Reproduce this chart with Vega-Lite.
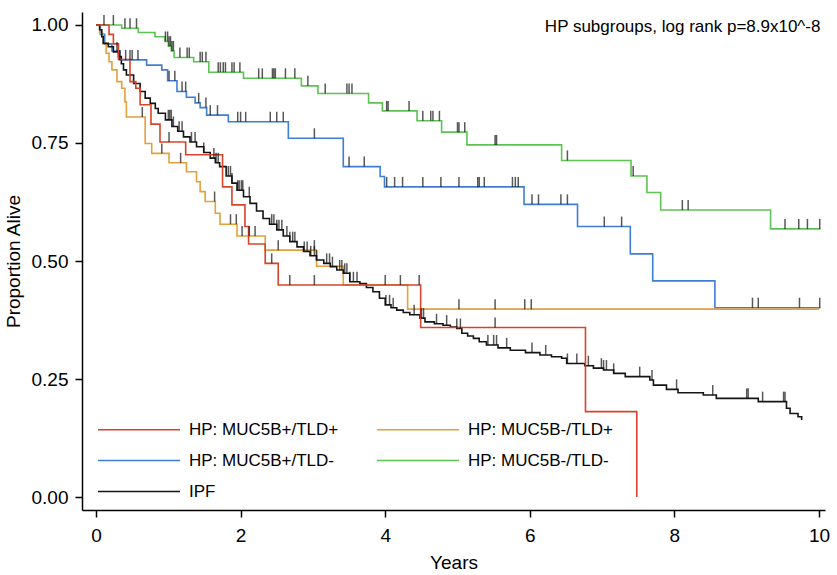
{
  "$schema": "https://vega.github.io/schema/vega-lite/v6.json",
  "autosize": "none",
  "width": 743,
  "height": 498,
  "padding": {"left": 82, "top": 12, "right": 12, "bottom": 65},
  "background": "white",
  "config": {
    "view": {"stroke": null},
    "font": "Liberation Sans",
    "axis": {
      "grid": false,
      "labelFontSize": 19,
      "titleFontSize": 19,
      "titleFontWeight": "normal",
      "labelColor": "#000",
      "titleColor": "#000",
      "domainColor": "#000",
      "tickColor": "#000",
      "domainWidth": 1.5,
      "tickWidth": 1.5,
      "tickSize": 7,
      "labelFlush": false
    }
  },
  "layer": [
    {
      "data": {"values": [
        {"group": "HP: MUC5B-/TLD-", "years": 0, "surv": 1.0},
        {"group": "HP: MUC5B-/TLD-", "years": 0.355, "surv": 0.993},
        {"group": "HP: MUC5B-/TLD-", "years": 0.585, "surv": 0.984},
        {"group": "HP: MUC5B-/TLD-", "years": 0.816, "surv": 0.975},
        {"group": "HP: MUC5B-/TLD-", "years": 0.954, "surv": 0.965},
        {"group": "HP: MUC5B-/TLD-", "years": 1.0, "surv": 0.955},
        {"group": "HP: MUC5B-/TLD-", "years": 1.04, "surv": 0.945},
        {"group": "HP: MUC5B-/TLD-", "years": 1.08, "surv": 0.931},
        {"group": "HP: MUC5B-/TLD-", "years": 1.35, "surv": 0.922},
        {"group": "HP: MUC5B-/TLD-", "years": 1.56, "surv": 0.9},
        {"group": "HP: MUC5B-/TLD-", "years": 2.04, "surv": 0.887},
        {"group": "HP: MUC5B-/TLD-", "years": 2.84, "surv": 0.871},
        {"group": "HP: MUC5B-/TLD-", "years": 3.07, "surv": 0.855},
        {"group": "HP: MUC5B-/TLD-", "years": 3.77, "surv": 0.835},
        {"group": "HP: MUC5B-/TLD-", "years": 3.96, "surv": 0.818},
        {"group": "HP: MUC5B-/TLD-", "years": 4.44, "surv": 0.797},
        {"group": "HP: MUC5B-/TLD-", "years": 4.78, "surv": 0.773},
        {"group": "HP: MUC5B-/TLD-", "years": 5.13, "surv": 0.746},
        {"group": "HP: MUC5B-/TLD-", "years": 6.44, "surv": 0.713},
        {"group": "HP: MUC5B-/TLD-", "years": 7.4, "surv": 0.68},
        {"group": "HP: MUC5B-/TLD-", "years": 7.62, "surv": 0.645},
        {"group": "HP: MUC5B-/TLD-", "years": 7.81, "surv": 0.608},
        {"group": "HP: MUC5B-/TLD-", "years": 9.33, "surv": 0.568},
        {"group": "HP: MUC5B-/TLD-", "years": 10.02, "surv": 0.568},

        {"group": "HP: MUC5B+/TLD-", "years": 0, "surv": 1.0},
        {"group": "HP: MUC5B+/TLD-", "years": 0.06, "surv": 0.98},
        {"group": "HP: MUC5B+/TLD-", "years": 0.12, "surv": 0.96},
        {"group": "HP: MUC5B+/TLD-", "years": 0.22, "surv": 0.945},
        {"group": "HP: MUC5B+/TLD-", "years": 0.33, "surv": 0.926},
        {"group": "HP: MUC5B+/TLD-", "years": 0.7, "surv": 0.915},
        {"group": "HP: MUC5B+/TLD-", "years": 0.91, "surv": 0.905},
        {"group": "HP: MUC5B+/TLD-", "years": 0.99, "surv": 0.882},
        {"group": "HP: MUC5B+/TLD-", "years": 1.12, "surv": 0.859},
        {"group": "HP: MUC5B+/TLD-", "years": 1.25, "surv": 0.847},
        {"group": "HP: MUC5B+/TLD-", "years": 1.37, "surv": 0.835},
        {"group": "HP: MUC5B+/TLD-", "years": 1.44, "surv": 0.825},
        {"group": "HP: MUC5B+/TLD-", "years": 1.53, "surv": 0.809},
        {"group": "HP: MUC5B+/TLD-", "years": 1.83, "surv": 0.795},
        {"group": "HP: MUC5B+/TLD-", "years": 2.66, "surv": 0.76},
        {"group": "HP: MUC5B+/TLD-", "years": 3.42, "surv": 0.7},
        {"group": "HP: MUC5B+/TLD-", "years": 3.93, "surv": 0.679},
        {"group": "HP: MUC5B+/TLD-", "years": 3.99, "surv": 0.657},
        {"group": "HP: MUC5B+/TLD-", "years": 5.92, "surv": 0.62},
        {"group": "HP: MUC5B+/TLD-", "years": 6.66, "surv": 0.573},
        {"group": "HP: MUC5B+/TLD-", "years": 7.39, "surv": 0.515},
        {"group": "HP: MUC5B+/TLD-", "years": 7.7, "surv": 0.458},
        {"group": "HP: MUC5B+/TLD-", "years": 8.56, "surv": 0.401},
        {"group": "HP: MUC5B+/TLD-", "years": 10.02, "surv": 0.401},

        {"group": "HP: MUC5B-/TLD+", "years": 0, "surv": 1.0},
        {"group": "HP: MUC5B-/TLD+", "years": 0.05, "surv": 0.982},
        {"group": "HP: MUC5B-/TLD+", "years": 0.1, "surv": 0.961},
        {"group": "HP: MUC5B-/TLD+", "years": 0.14, "surv": 0.94},
        {"group": "HP: MUC5B-/TLD+", "years": 0.18, "surv": 0.922},
        {"group": "HP: MUC5B-/TLD+", "years": 0.22, "surv": 0.905},
        {"group": "HP: MUC5B-/TLD+", "years": 0.29, "surv": 0.88},
        {"group": "HP: MUC5B-/TLD+", "years": 0.355, "surv": 0.866},
        {"group": "HP: MUC5B-/TLD+", "years": 0.4, "surv": 0.837},
        {"group": "HP: MUC5B-/TLD+", "years": 0.42, "surv": 0.805},
        {"group": "HP: MUC5B-/TLD+", "years": 0.68, "surv": 0.749},
        {"group": "HP: MUC5B-/TLD+", "years": 0.77, "surv": 0.728},
        {"group": "HP: MUC5B-/TLD+", "years": 1.01, "surv": 0.708},
        {"group": "HP: MUC5B-/TLD+", "years": 1.25, "surv": 0.689},
        {"group": "HP: MUC5B-/TLD+", "years": 1.39, "surv": 0.668},
        {"group": "HP: MUC5B-/TLD+", "years": 1.44, "surv": 0.647},
        {"group": "HP: MUC5B-/TLD+", "years": 1.51, "surv": 0.626},
        {"group": "HP: MUC5B-/TLD+", "years": 1.65, "surv": 0.601},
        {"group": "HP: MUC5B-/TLD+", "years": 1.715, "surv": 0.578},
        {"group": "HP: MUC5B-/TLD+", "years": 1.95, "surv": 0.553},
        {"group": "HP: MUC5B-/TLD+", "years": 2.34, "surv": 0.523},
        {"group": "HP: MUC5B-/TLD+", "years": 3.05, "surv": 0.489},
        {"group": "HP: MUC5B-/TLD+", "years": 3.42, "surv": 0.449},
        {"group": "HP: MUC5B-/TLD+", "years": 4.31, "surv": 0.398},
        {"group": "HP: MUC5B-/TLD+", "years": 10.0, "surv": 0.398},

        {"group": "IPF", "years": 0, "surv": 1.0},
        {"group": "IPF", "years": 0.05, "surv": 0.99},
        {"group": "IPF", "years": 0.08, "surv": 0.975},
        {"group": "IPF", "years": 0.1, "surv": 0.961},
        {"group": "IPF", "years": 0.17, "surv": 0.954},
        {"group": "IPF", "years": 0.24, "surv": 0.943},
        {"group": "IPF", "years": 0.31, "surv": 0.933},
        {"group": "IPF", "years": 0.35, "surv": 0.918},
        {"group": "IPF", "years": 0.38, "surv": 0.905},
        {"group": "IPF", "years": 0.42, "surv": 0.894},
        {"group": "IPF", "years": 0.52, "surv": 0.876},
        {"group": "IPF", "years": 0.61, "surv": 0.859},
        {"group": "IPF", "years": 0.68, "surv": 0.845},
        {"group": "IPF", "years": 0.75, "surv": 0.834},
        {"group": "IPF", "years": 0.82, "surv": 0.823},
        {"group": "IPF", "years": 0.86, "surv": 0.813},
        {"group": "IPF", "years": 0.96, "surv": 0.799},
        {"group": "IPF", "years": 1.05, "surv": 0.785},
        {"group": "IPF", "years": 1.13, "surv": 0.775},
        {"group": "IPF", "years": 1.21, "surv": 0.763},
        {"group": "IPF", "years": 1.3, "surv": 0.752},
        {"group": "IPF", "years": 1.39, "surv": 0.742},
        {"group": "IPF", "years": 1.49, "surv": 0.73},
        {"group": "IPF", "years": 1.58, "surv": 0.718},
        {"group": "IPF", "years": 1.65, "surv": 0.708},
        {"group": "IPF", "years": 1.71, "surv": 0.7},
        {"group": "IPF", "years": 1.8, "surv": 0.68},
        {"group": "IPF", "years": 1.88, "surv": 0.665},
        {"group": "IPF", "years": 1.95, "surv": 0.65},
        {"group": "IPF", "years": 2.04, "surv": 0.636},
        {"group": "IPF", "years": 2.13, "surv": 0.622},
        {"group": "IPF", "years": 2.22, "surv": 0.606},
        {"group": "IPF", "years": 2.31, "surv": 0.59},
        {"group": "IPF", "years": 2.4, "surv": 0.578},
        {"group": "IPF", "years": 2.5, "surv": 0.566},
        {"group": "IPF", "years": 2.59, "surv": 0.553},
        {"group": "IPF", "years": 2.68, "surv": 0.541},
        {"group": "IPF", "years": 2.78, "surv": 0.53},
        {"group": "IPF", "years": 2.87, "surv": 0.52},
        {"group": "IPF", "years": 2.96, "surv": 0.511},
        {"group": "IPF", "years": 3.05, "surv": 0.502},
        {"group": "IPF", "years": 3.15, "surv": 0.495},
        {"group": "IPF", "years": 3.24, "surv": 0.488},
        {"group": "IPF", "years": 3.33, "surv": 0.481},
        {"group": "IPF", "years": 3.42, "surv": 0.474},
        {"group": "IPF", "years": 3.51, "surv": 0.456},
        {"group": "IPF", "years": 3.65, "surv": 0.452},
        {"group": "IPF", "years": 3.74, "surv": 0.444},
        {"group": "IPF", "years": 3.83, "surv": 0.435},
        {"group": "IPF", "years": 3.92, "surv": 0.421},
        {"group": "IPF", "years": 4.0, "surv": 0.407},
        {"group": "IPF", "years": 4.08, "surv": 0.401},
        {"group": "IPF", "years": 4.16, "surv": 0.396},
        {"group": "IPF", "years": 4.25, "surv": 0.391},
        {"group": "IPF", "years": 4.34, "surv": 0.386},
        {"group": "IPF", "years": 4.48, "surv": 0.379},
        {"group": "IPF", "years": 4.55, "surv": 0.371},
        {"group": "IPF", "years": 4.68, "surv": 0.367},
        {"group": "IPF", "years": 4.8, "surv": 0.364},
        {"group": "IPF", "years": 4.9, "surv": 0.36},
        {"group": "IPF", "years": 4.99, "surv": 0.357},
        {"group": "IPF", "years": 5.06, "surv": 0.347},
        {"group": "IPF", "years": 5.14, "surv": 0.341},
        {"group": "IPF", "years": 5.22, "surv": 0.336},
        {"group": "IPF", "years": 5.3, "surv": 0.329},
        {"group": "IPF", "years": 5.4, "surv": 0.322},
        {"group": "IPF", "years": 5.56, "surv": 0.316},
        {"group": "IPF", "years": 5.73, "surv": 0.311},
        {"group": "IPF", "years": 5.94, "surv": 0.306},
        {"group": "IPF", "years": 6.14, "surv": 0.301},
        {"group": "IPF", "years": 6.3, "surv": 0.297},
        {"group": "IPF", "years": 6.44, "surv": 0.294},
        {"group": "IPF", "years": 6.51, "surv": 0.283},
        {"group": "IPF", "years": 6.76, "surv": 0.278},
        {"group": "IPF", "years": 6.88, "surv": 0.273},
        {"group": "IPF", "years": 7.02, "surv": 0.269},
        {"group": "IPF", "years": 7.16, "surv": 0.262},
        {"group": "IPF", "years": 7.32, "surv": 0.255},
        {"group": "IPF", "years": 7.66, "surv": 0.248},
        {"group": "IPF", "years": 7.71, "surv": 0.237},
        {"group": "IPF", "years": 7.89, "surv": 0.228},
        {"group": "IPF", "years": 8.05, "surv": 0.221},
        {"group": "IPF", "years": 8.4, "surv": 0.216},
        {"group": "IPF", "years": 8.58, "surv": 0.209},
        {"group": "IPF", "years": 9.16, "surv": 0.202},
        {"group": "IPF", "years": 9.55, "surv": 0.188},
        {"group": "IPF", "years": 9.6, "surv": 0.177},
        {"group": "IPF", "years": 9.71, "surv": 0.17},
        {"group": "IPF", "years": 9.76, "surv": 0.163},

        {"group": "HP: MUC5B+/TLD+", "years": 0, "surv": 1.0},
        {"group": "HP: MUC5B+/TLD+", "years": 0.18, "surv": 0.98},
        {"group": "HP: MUC5B+/TLD+", "years": 0.24, "surv": 0.96},
        {"group": "HP: MUC5B+/TLD+", "years": 0.31, "surv": 0.927},
        {"group": "HP: MUC5B+/TLD+", "years": 0.47, "surv": 0.88},
        {"group": "HP: MUC5B+/TLD+", "years": 0.55, "surv": 0.866},
        {"group": "HP: MUC5B+/TLD+", "years": 0.61, "surv": 0.831},
        {"group": "HP: MUC5B+/TLD+", "years": 0.76, "surv": 0.79},
        {"group": "HP: MUC5B+/TLD+", "years": 0.885, "surv": 0.752},
        {"group": "HP: MUC5B+/TLD+", "years": 1.24, "surv": 0.725},
        {"group": "HP: MUC5B+/TLD+", "years": 1.75, "surv": 0.657},
        {"group": "HP: MUC5B+/TLD+", "years": 1.88, "surv": 0.619},
        {"group": "HP: MUC5B+/TLD+", "years": 2.06, "surv": 0.573},
        {"group": "HP: MUC5B+/TLD+", "years": 2.11, "surv": 0.536},
        {"group": "HP: MUC5B+/TLD+", "years": 2.34, "surv": 0.495},
        {"group": "HP: MUC5B+/TLD+", "years": 2.52, "surv": 0.449},
        {"group": "HP: MUC5B+/TLD+", "years": 4.49, "surv": 0.359},
        {"group": "HP: MUC5B+/TLD+", "years": 6.77, "surv": 0.181},
        {"group": "HP: MUC5B+/TLD+", "years": 7.48, "surv": 0.0}
      ]},
      "mark": {"type": "line", "interpolate": "step-after", "strokeWidth": 1.6},
      "encoding": {
        "x": {
          "field": "years", "type": "quantitative",
          "scale": {"domain": [-0.194, 10.083], "nice": false, "zero": false},
          "axis": {"values": [0, 2, 4, 6, 8, 10], "format": "d", "title": "Years", "labelPadding": 9, "titlePadding": 8}
        },
        "y": {
          "field": "surv", "type": "quantitative",
          "scale": {"domain": [-0.0275, 1.0275], "nice": false, "zero": false},
          "axis": {"values": [0, 0.25, 0.5, 0.75, 1], "format": ".2f", "title": "Proportion Alive", "labelPadding": 7, "titlePadding": 8}
        },
        "color": {
          "field": "group", "type": "nominal",
          "scale": {
            "domain": ["HP: MUC5B+/TLD+", "HP: MUC5B+/TLD-", "IPF", "HP: MUC5B-/TLD+", "HP: MUC5B-/TLD-"],
            "range": ["#d6452a", "#3f7ed6", "#151515", "#e4a03a", "#5cc452"]
          },
          "legend": {
            "title": null,
            "orient": "none",
            "legendX": 15,
            "legendY": 408,
            "columns": 2,
            "symbolType": "M-1,0H8.65",
            "symbolSize": 289,
            "symbolStrokeWidth": 1.5,
            "symbolFillColor": "transparent",
            "labelFontSize": 17,
            "labelColor": "#000",
            "labelOffset": 73,
            "columnPadding": 35,
            "rowPadding": 13,
            "padding": 0
          }
        },
        "order": {"field": "years", "type": "quantitative"}
      }
    },
    {
      "data": {"values": [
        {"group": "G", "years": 0.11, "surv": 1.0},
        {"group": "G", "years": 0.24, "surv": 1.0},
        {"group": "G", "years": 0.4, "surv": 0.993},
        {"group": "G", "years": 0.47, "surv": 0.993},
        {"group": "G", "years": 0.56, "surv": 0.993},
        {"group": "G", "years": 0.96, "surv": 0.965},
        {"group": "G", "years": 0.99, "surv": 0.965},
        {"group": "G", "years": 1.01, "surv": 0.955},
        {"group": "G", "years": 1.03, "surv": 0.955},
        {"group": "G", "years": 1.05, "surv": 0.945},
        {"group": "G", "years": 1.07, "surv": 0.945},
        {"group": "G", "years": 1.16, "surv": 0.931},
        {"group": "G", "years": 1.26, "surv": 0.931},
        {"group": "G", "years": 1.29, "surv": 0.931},
        {"group": "G", "years": 1.44, "surv": 0.922},
        {"group": "G", "years": 1.47, "surv": 0.922},
        {"group": "G", "years": 1.52, "surv": 0.922},
        {"group": "G", "years": 1.69, "surv": 0.9},
        {"group": "G", "years": 1.72, "surv": 0.9},
        {"group": "G", "years": 1.76, "surv": 0.9},
        {"group": "G", "years": 1.79, "surv": 0.9},
        {"group": "G", "years": 1.88, "surv": 0.9},
        {"group": "G", "years": 1.91, "surv": 0.9},
        {"group": "G", "years": 1.99, "surv": 0.9},
        {"group": "G", "years": 2.25, "surv": 0.887},
        {"group": "G", "years": 2.3, "surv": 0.887},
        {"group": "G", "years": 2.44, "surv": 0.887},
        {"group": "G", "years": 2.46, "surv": 0.887},
        {"group": "G", "years": 2.48, "surv": 0.887},
        {"group": "G", "years": 2.62, "surv": 0.887},
        {"group": "G", "years": 2.75, "surv": 0.887},
        {"group": "G", "years": 2.93, "surv": 0.871},
        {"group": "G", "years": 3.17, "surv": 0.855},
        {"group": "G", "years": 3.47, "surv": 0.855},
        {"group": "G", "years": 3.5, "surv": 0.855},
        {"group": "G", "years": 3.54, "surv": 0.855},
        {"group": "G", "years": 4.02, "surv": 0.818},
        {"group": "G", "years": 4.04, "surv": 0.818},
        {"group": "G", "years": 4.33, "surv": 0.818},
        {"group": "G", "years": 4.52, "surv": 0.797},
        {"group": "G", "years": 4.63, "surv": 0.797},
        {"group": "G", "years": 4.66, "surv": 0.797},
        {"group": "G", "years": 4.75, "surv": 0.797},
        {"group": "G", "years": 5.0, "surv": 0.773},
        {"group": "G", "years": 5.02, "surv": 0.773},
        {"group": "G", "years": 5.1, "surv": 0.773},
        {"group": "G", "years": 5.52, "surv": 0.746},
        {"group": "G", "years": 5.54, "surv": 0.746},
        {"group": "G", "years": 6.52, "surv": 0.713},
        {"group": "G", "years": 7.43, "surv": 0.68},
        {"group": "G", "years": 8.11, "surv": 0.608},
        {"group": "G", "years": 8.19, "surv": 0.608},
        {"group": "G", "years": 9.53, "surv": 0.568},
        {"group": "G", "years": 9.72, "surv": 0.568},
        {"group": "G", "years": 9.84, "surv": 0.568},
        {"group": "G", "years": 10.01, "surv": 0.568},

        {"group": "B", "years": 0.33, "surv": 0.926},
        {"group": "B", "years": 0.41, "surv": 0.926},
        {"group": "B", "years": 0.47, "surv": 0.926},
        {"group": "B", "years": 0.5, "surv": 0.926},
        {"group": "B", "years": 0.58, "surv": 0.926},
        {"group": "B", "years": 1.01, "surv": 0.882},
        {"group": "B", "years": 1.09, "surv": 0.882},
        {"group": "B", "years": 1.19, "surv": 0.859},
        {"group": "B", "years": 1.24, "surv": 0.859},
        {"group": "B", "years": 1.42, "surv": 0.835},
        {"group": "B", "years": 1.52, "surv": 0.825},
        {"group": "B", "years": 1.58, "surv": 0.809},
        {"group": "B", "years": 1.68, "surv": 0.809},
        {"group": "B", "years": 1.96, "surv": 0.795},
        {"group": "B", "years": 2.0, "surv": 0.795},
        {"group": "B", "years": 2.07, "surv": 0.795},
        {"group": "B", "years": 2.41, "surv": 0.795},
        {"group": "B", "years": 2.5, "surv": 0.795},
        {"group": "B", "years": 2.59, "surv": 0.795},
        {"group": "B", "years": 3.02, "surv": 0.76},
        {"group": "B", "years": 3.5, "surv": 0.7},
        {"group": "B", "years": 3.71, "surv": 0.7},
        {"group": "B", "years": 4.02, "surv": 0.657},
        {"group": "B", "years": 4.13, "surv": 0.657},
        {"group": "B", "years": 4.24, "surv": 0.657},
        {"group": "B", "years": 4.52, "surv": 0.657},
        {"group": "B", "years": 4.77, "surv": 0.657},
        {"group": "B", "years": 5.02, "surv": 0.657},
        {"group": "B", "years": 5.28, "surv": 0.657},
        {"group": "B", "years": 5.3, "surv": 0.657},
        {"group": "B", "years": 5.37, "surv": 0.657},
        {"group": "B", "years": 5.76, "surv": 0.657},
        {"group": "B", "years": 5.8, "surv": 0.657},
        {"group": "B", "years": 5.84, "surv": 0.657},
        {"group": "B", "years": 6.03, "surv": 0.62},
        {"group": "B", "years": 6.12, "surv": 0.62},
        {"group": "B", "years": 6.43, "surv": 0.62},
        {"group": "B", "years": 6.52, "surv": 0.62},
        {"group": "B", "years": 7.03, "surv": 0.573},
        {"group": "B", "years": 7.27, "surv": 0.573},
        {"group": "B", "years": 9.08, "surv": 0.401},
        {"group": "B", "years": 9.16, "surv": 0.401},
        {"group": "B", "years": 9.73, "surv": 0.401},
        {"group": "B", "years": 10.01, "surv": 0.401},

        {"group": "R", "years": 1.01, "surv": 0.752},
        {"group": "R", "years": 2.43, "surv": 0.495},
        {"group": "R", "years": 2.68, "surv": 0.449},
        {"group": "R", "years": 3.02, "surv": 0.449},
        {"group": "R", "years": 4.0, "surv": 0.449},
        {"group": "R", "years": 4.21, "surv": 0.449},
        {"group": "R", "years": 4.47, "surv": 0.449},
        {"group": "R", "years": 5.52, "surv": 0.359},

        {"group": "O", "years": 0.64, "surv": 0.805},
        {"group": "O", "years": 0.91, "surv": 0.728},
        {"group": "O", "years": 1.17, "surv": 0.708},
        {"group": "O", "years": 1.64, "surv": 0.626},
        {"group": "O", "years": 1.86, "surv": 0.578},
        {"group": "O", "years": 1.94, "surv": 0.578},
        {"group": "O", "years": 2.02, "surv": 0.553},
        {"group": "O", "years": 2.12, "surv": 0.553},
        {"group": "O", "years": 2.2, "surv": 0.553},
        {"group": "O", "years": 2.52, "surv": 0.523},
        {"group": "O", "years": 3.02, "surv": 0.523},
        {"group": "O", "years": 5.02, "surv": 0.398},
        {"group": "O", "years": 5.52, "surv": 0.398},
        {"group": "O", "years": 5.93, "surv": 0.398},
        {"group": "O", "years": 6.02, "surv": 0.398},

        {"group": "K", "years": 0.29, "surv": 0.943},
        {"group": "K", "years": 1.0, "surv": 0.799},
        {"group": "K", "years": 1.02, "surv": 0.799},
        {"group": "K", "years": 1.04, "surv": 0.799},
        {"group": "K", "years": 1.07, "surv": 0.785},
        {"group": "K", "years": 1.15, "surv": 0.775},
        {"group": "K", "years": 1.19, "surv": 0.775},
        {"group": "K", "years": 1.32, "surv": 0.752},
        {"group": "K", "years": 1.37, "surv": 0.752},
        {"group": "K", "years": 1.49, "surv": 0.73},
        {"group": "K", "years": 1.63, "surv": 0.718},
        {"group": "K", "years": 1.66, "surv": 0.708},
        {"group": "K", "years": 1.69, "surv": 0.708},
        {"group": "K", "years": 1.83, "surv": 0.68},
        {"group": "K", "years": 1.86, "surv": 0.68},
        {"group": "K", "years": 1.88, "surv": 0.665},
        {"group": "K", "years": 1.96, "surv": 0.65},
        {"group": "K", "years": 1.98, "surv": 0.65},
        {"group": "K", "years": 2.01, "surv": 0.65},
        {"group": "K", "years": 2.03, "surv": 0.65},
        {"group": "K", "years": 2.12, "surv": 0.636},
        {"group": "K", "years": 2.43, "surv": 0.578},
        {"group": "K", "years": 2.46, "surv": 0.578},
        {"group": "K", "years": 2.5, "surv": 0.566},
        {"group": "K", "years": 2.53, "surv": 0.566},
        {"group": "K", "years": 2.57, "surv": 0.566},
        {"group": "K", "years": 2.64, "surv": 0.553},
        {"group": "K", "years": 2.68, "surv": 0.541},
        {"group": "K", "years": 2.72, "surv": 0.541},
        {"group": "K", "years": 2.75, "surv": 0.541},
        {"group": "K", "years": 2.88, "surv": 0.52},
        {"group": "K", "years": 2.92, "surv": 0.52},
        {"group": "K", "years": 2.97, "surv": 0.511},
        {"group": "K", "years": 3.02, "surv": 0.511},
        {"group": "K", "years": 3.05, "surv": 0.502},
        {"group": "K", "years": 3.19, "surv": 0.495},
        {"group": "K", "years": 3.23, "surv": 0.495},
        {"group": "K", "years": 3.27, "surv": 0.488},
        {"group": "K", "years": 3.37, "surv": 0.481},
        {"group": "K", "years": 3.4, "surv": 0.481},
        {"group": "K", "years": 3.44, "surv": 0.474},
        {"group": "K", "years": 3.47, "surv": 0.474},
        {"group": "K", "years": 3.51, "surv": 0.456},
        {"group": "K", "years": 3.56, "surv": 0.456},
        {"group": "K", "years": 3.61, "surv": 0.456},
        {"group": "K", "years": 4.01, "surv": 0.407},
        {"group": "K", "years": 4.06, "surv": 0.407},
        {"group": "K", "years": 4.11, "surv": 0.401},
        {"group": "K", "years": 4.4, "surv": 0.386},
        {"group": "K", "years": 4.5, "surv": 0.379},
        {"group": "K", "years": 4.53, "surv": 0.379},
        {"group": "K", "years": 4.71, "surv": 0.367},
        {"group": "K", "years": 4.85, "surv": 0.364},
        {"group": "K", "years": 4.99, "surv": 0.357},
        {"group": "K", "years": 5.04, "surv": 0.357},
        {"group": "K", "years": 5.42, "surv": 0.322},
        {"group": "K", "years": 5.5, "surv": 0.322},
        {"group": "K", "years": 5.54, "surv": 0.322},
        {"group": "K", "years": 5.68, "surv": 0.316},
        {"group": "K", "years": 6.03, "surv": 0.306},
        {"group": "K", "years": 6.22, "surv": 0.301},
        {"group": "K", "years": 6.52, "surv": 0.283},
        {"group": "K", "years": 6.65, "surv": 0.283},
        {"group": "K", "years": 6.81, "surv": 0.278},
        {"group": "K", "years": 6.99, "surv": 0.273},
        {"group": "K", "years": 7.02, "surv": 0.269},
        {"group": "K", "years": 7.06, "surv": 0.269},
        {"group": "K", "years": 7.16, "surv": 0.262},
        {"group": "K", "years": 7.52, "surv": 0.255},
        {"group": "K", "years": 7.69, "surv": 0.248},
        {"group": "K", "years": 8.03, "surv": 0.228},
        {"group": "K", "years": 8.53, "surv": 0.216},
        {"group": "K", "years": 9.0, "surv": 0.209},
        {"group": "K", "years": 9.02, "surv": 0.209},
        {"group": "K", "years": 9.22, "surv": 0.202},
        {"group": "K", "years": 9.51, "surv": 0.202},
        {"group": "K", "years": 9.53, "surv": 0.202}
      ]},
      "mark": {"type": "tick", "orient": "vertical", "size": 10, "thickness": 1.5, "color": "#111", "yOffset": -5},
      "encoding": {
        "x": {"field": "years", "type": "quantitative"},
        "y": {"field": "surv", "type": "quantitative"}
      }
    },
    {
      "data": {"values": [{}]},
      "mark": {"type": "text", "align": "right", "baseline": "middle", "fontSize": 17, "color": "#000", "dy": 2},
      "encoding": {
        "x": {"datum": 10.02, "type": "quantitative"},
        "y": {"datum": 1.0, "type": "quantitative"},
        "text": {"value": "HP subgroups, log rank p=8.9x10^-8"}
      }
    }
  ]
}
